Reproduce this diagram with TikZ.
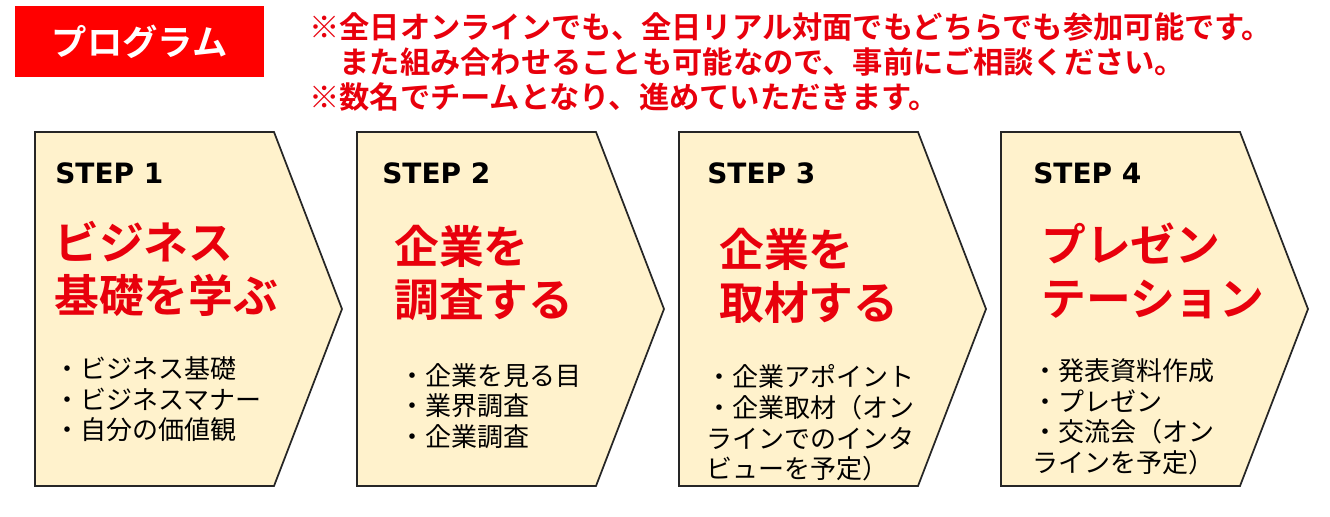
\documentclass[tikz,border=0pt]{standalone}
\usepackage{fontspec}
\setmainfont{Noto Sans CJK JP}[BoldFont={Noto Sans CJK JP Bold}]
\newfontfamily\steplatin{DejaVu Sans}
\usepackage{tikz}
\usetikzlibrary{positioning}
\definecolor{progred}{RGB}{255,0,0}
\definecolor{headred}{RGB}{232,0,12}
\definecolor{stepfill}{RGB}{255,242,204}

\begin{document}
\begin{tikzpicture}[
  x=0.75pt, y=-0.75pt,
  chevron/.style={draw=black!85, line width=1.3pt, fill=stepfill, line join=miter},
  titlebox/.style={rectangle, fill=progred, minimum width=186.75pt,
    minimum height=53.25pt, text=white, inner sep=0pt,
    font=\bfseries\fontsize{26.5}{30}\selectfont},
  note/.style={anchor=west, align=left, inner sep=0pt, text=headred,
    font=\bfseries\fontsize{22.7}{26.25}\selectfont},
  steplabel/.style={anchor=west, inner sep=0pt,
    font=\steplatin\bfseries\fontsize{21}{24}\selectfont},
  headline/.style={anchor=west, align=left, inner sep=0pt, text=headred,
    font=\bfseries\fontsize{33.6}{40}\selectfont},
  items/.style={anchor=west, align=left, inner sep=0pt,
    font=\fontsize{19.5}{22.9}\selectfont}
]
  \useasboundingbox (0,0) rectangle (1330,517);

  % four steps
  \foreach \x in {35,357,679,1001}
    \draw[chevron] (\x,132) -- ++(239,0) -- ++(68,177) -- ++(-68,177)
      -- ++(-239,0) -- cycle;

  \node[titlebox] (title) at (139.5,41.5) {プログラム};
  \node[note] (notes) at (309,62) {※全日オンラインでも、全日リアル対面でもどちらでも参加可能です。\\　また組み合わせることも可能なので、事前にご相談ください。\\※数名でチームとなり、進めていただきます。};

  \node[steplabel] (step1) at (55,173) {STEP 1};
  \node[headline] (head1) at (54,269) {ビジネス\\基礎を学ぶ};
  \node[items] (items1) at (54,399.5) {・ビジネス基礎\\・ビジネスマナー\\・自分の価値観};

  \node[steplabel] (step2) at (382,173) {STEP 2};
  \node[headline] (head2) at (394,273) {企業を\\調査する};
  \node[items] (items2) at (399,406) {・企業を見る目\\・業界調査\\・企業調査};

  \node[steplabel] (step3) at (707,173) {STEP 3};
  \node[headline] (head3) at (719,276) {企業を\\取材する};
  \node[items] (items3) at (706,423) {・企業アポイント\\・企業取材（オン\\ラインでのインタ\\ビューを予定）};

  \node[steplabel] (step4) at (1033,173) {STEP 4};
  \node[headline] (head4) at (1041,271) {プレゼン\\テーション};
  \node[items] (items4) at (1032,417) {・発表資料作成\\・プレゼン\\・交流会（オン\\ラインを予定）};
\end{tikzpicture}
\end{document}
